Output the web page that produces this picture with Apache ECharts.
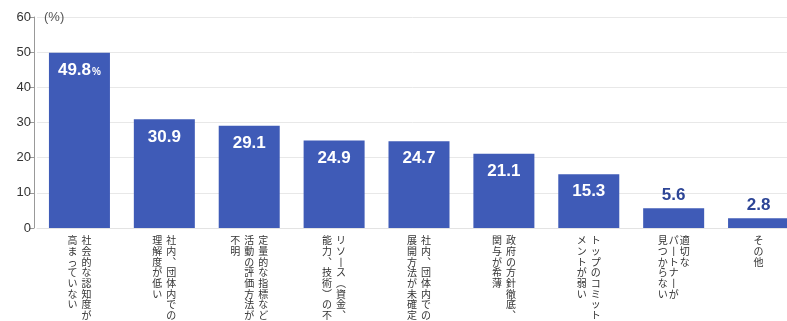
<!DOCTYPE html>
<html><head><meta charset="utf-8">
<script src="https://cdn.jsdelivr.net/npm/echarts@6/dist/echarts.min.js"></script>
<style>html,body{margin:0;padding:0;background:#fff}#c{width:787px;height:321px}</style>
</head><body><div id="c"></div>
<script>
const categories = [
  "社会的な認知度が\n高まっていない",
  "社内、団体内での\n理解度が低い",
  "定量的な指標など\n活動の評価方法が\n不明",
  "リソース（資金、\n能力、技術）の不足",
  "社内、団体内での\n展開方法が未確定",
  "政府の方針徹底、\n関与が希薄",
  "トップのコミット\nメントが弱い",
  "適切な\nパートナーが\n見つからない",
  "その他"
];
const values = [49.8, 30.9, 29.1, 24.9, 24.7, 21.1, 15.3, 5.6, 2.8];
const yTicks = [0, 10, 20, 30, 40, 50, 60];

const vmap = {"、": "︑", "（": "︵", "）": "︶", "ー": "丨"};
function vertical(label, idx) {
  const cols = label.split("\n").reverse(); // leftmost column first
  const rows = Math.max(...cols.map(c => [...c].length));
  const st = idx === 7 ? "n" : "c";
  const lines = [];
  for (let r = 0; r < rows; r++) {
    let line = "";
    cols.forEach(c => {
      const ch = [...c][r] || "　";
      line += "{" + st + "|" + (vmap[ch] || ch) + "}";
    });
    lines.push(line);
  }
  return lines.join("\n");
}

const chart = echarts.init(document.getElementById("c"), null, {renderer: "canvas"});
const blue = "#3f5bb7";
const cjk = {align: "center", fontSize: 10, lineHeight: 10.7, color: "#333", fontFamily: "Noto Sans CJK JP"};
chart.setOption({
  animation: false,
  backgroundColor: "#fff",
  grid: {left: 37, top: 17, right: -14, bottom: 93, containLabel: false, outerBoundsMode: "none"},
  xAxis: {
    type: "category",
    data: categories,
    axisLine: {show: true, lineStyle: {color: "#e3e3e3"}},
    axisTick: {show: false},
    axisLabel: {
      interval: 0, margin: 7, align: "center", verticalAlign: "top",
      formatter: (v, i) => vertical(v, i),
      rich: {
        c: Object.assign({width: 14}, cjk),
        n: Object.assign({width: 11}, cjk)
      }
    }
  },
  yAxis: {
    type: "value", min: yTicks[0], max: yTicks[yTicks.length - 1], interval: 10,
    offset: 3,
    name: "(%)", nameLocation: "end", nameGap: 0,
    nameTextStyle: {align: "left", verticalAlign: "middle", padding: [0, 0, 0, 10], fontSize: 13, color: "#555", fontFamily: "Liberation Sans"},
    axisLine: {show: true, lineStyle: {color: "#999"}},
    axisTick: {show: true, length: 4, lineStyle: {color: "#999"}},
    axisLabel: {margin: 3, fontSize: 13, color: "#333", fontFamily: "Liberation Sans"},
    splitLine: {show: true, lineStyle: {color: "#e8e8e8"}}
  },
  series: [{
    type: "bar",
    data: values.map((v, i) => ({
      value: v,
      label: v >= 10 ? {
        show: true, position: "insideTop", distance: 9, color: "#fff",
        formatter: i === 0 ? "{a|{c}}{b|%}" : "{a|{c}}",
        rich: {
          a: {fontSize: 17, fontWeight: "bold", color: "#fff", fontFamily: "Liberation Sans"},
          b: {fontSize: 10, fontWeight: "bold", color: "#fff", fontFamily: "Liberation Sans", padding: [3, 0, 0, 1]}
        }
      } : {
        show: true, position: "top", distance: 4,
        formatter: "{c}", fontSize: 17, fontWeight: "bold", color: "#2d4596", fontFamily: "Liberation Sans"
      }
    })),
    barWidth: 61,
    itemStyle: {color: blue}
  }]
});
</script></body></html>
